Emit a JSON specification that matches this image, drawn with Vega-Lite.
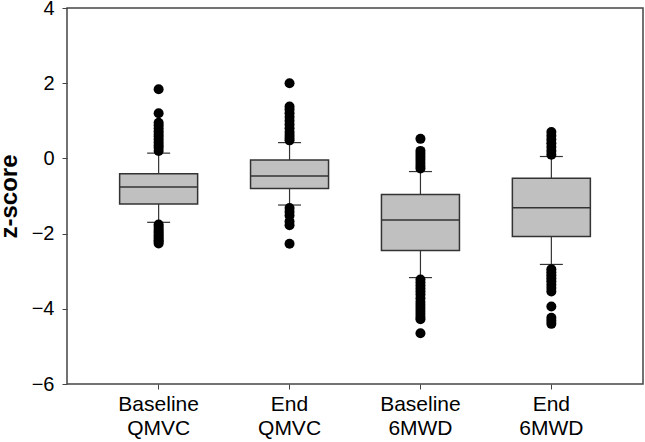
{
  "$schema": "https://vega.github.io/schema/vega-lite/v6.json",
  "autosize": "none",
  "width": 576,
  "height": 376,
  "padding": {"left": 67, "top": 8, "right": 2, "bottom": 58},
  "background": "white",
  "config": {
    "view": {"stroke": "#444444", "strokeWidth": 1.5},
    "font": "Liberation Sans",
    "axis": {"grid": false, "domainColor": "#444444", "domainWidth": 1.5, "tickColor": "#444444", "tickWidth": 1, "tickSize": 5, "labelColor": "#000000", "labelFont": "Liberation Sans", "labelFontSize": 20, "titleFont": "Liberation Sans"}
  },
  "datasets": {
    "summary": [
      {"group": "Baseline QMVC", "lower": -1.70, "q1": -1.21, "median": -0.76, "q3": -0.41, "upper": 0.14},
      {"group": "End QMVC", "lower": -1.24, "q1": -0.80, "median": -0.47, "q3": -0.04, "upper": 0.42},
      {"group": "Baseline 6MWD", "lower": -3.17, "q1": -2.45, "median": -1.64, "q3": -0.96, "upper": -0.35},
      {"group": "End 6MWD", "lower": -2.82, "q1": -2.08, "median": -1.31, "q3": -0.53, "upper": 0.05}
    ],
    "outliers": [
      {"group": "Baseline QMVC", "z": 1.84}, {"group": "Baseline QMVC", "z": 1.2}, {"group": "Baseline QMVC", "z": 0.95},
      {"group": "Baseline QMVC", "z": 0.88}, {"group": "Baseline QMVC", "z": 0.8}, {"group": "Baseline QMVC", "z": 0.72},
      {"group": "Baseline QMVC", "z": 0.65}, {"group": "Baseline QMVC", "z": 0.58}, {"group": "Baseline QMVC", "z": 0.5},
      {"group": "Baseline QMVC", "z": 0.42}, {"group": "Baseline QMVC", "z": 0.35}, {"group": "Baseline QMVC", "z": 0.28},
      {"group": "Baseline QMVC", "z": 0.2},
      {"group": "Baseline QMVC", "z": -1.76}, {"group": "Baseline QMVC", "z": -1.82}, {"group": "Baseline QMVC", "z": -1.88},
      {"group": "Baseline QMVC", "z": -1.93}, {"group": "Baseline QMVC", "z": -1.98}, {"group": "Baseline QMVC", "z": -2.03},
      {"group": "Baseline QMVC", "z": -2.08}, {"group": "Baseline QMVC", "z": -2.13}, {"group": "Baseline QMVC", "z": -2.18},
      {"group": "Baseline QMVC", "z": -2.22}, {"group": "Baseline QMVC", "z": -2.26},
      {"group": "End QMVC", "z": 2.0}, {"group": "End QMVC", "z": 1.38}, {"group": "End QMVC", "z": 1.3},
      {"group": "End QMVC", "z": 1.2}, {"group": "End QMVC", "z": 1.1}, {"group": "End QMVC", "z": 1.0},
      {"group": "End QMVC", "z": 0.9}, {"group": "End QMVC", "z": 0.8}, {"group": "End QMVC", "z": 0.7},
      {"group": "End QMVC", "z": 0.62}, {"group": "End QMVC", "z": 0.55}, {"group": "End QMVC", "z": 0.48},
      {"group": "End QMVC", "z": -1.32}, {"group": "End QMVC", "z": -1.42}, {"group": "End QMVC", "z": -1.52},
      {"group": "End QMVC", "z": -1.68}, {"group": "End QMVC", "z": -1.78}, {"group": "End QMVC", "z": -2.27},
      {"group": "Baseline 6MWD", "z": 0.52}, {"group": "Baseline 6MWD", "z": 0.2}, {"group": "Baseline 6MWD", "z": 0.12},
      {"group": "Baseline 6MWD", "z": 0.04}, {"group": "Baseline 6MWD", "z": -0.04}, {"group": "Baseline 6MWD", "z": -0.12},
      {"group": "Baseline 6MWD", "z": -0.2}, {"group": "Baseline 6MWD", "z": -0.27},
      {"group": "Baseline 6MWD", "z": -3.22}, {"group": "Baseline 6MWD", "z": -3.3}, {"group": "Baseline 6MWD", "z": -3.38},
      {"group": "Baseline 6MWD", "z": -3.46}, {"group": "Baseline 6MWD", "z": -3.54}, {"group": "Baseline 6MWD", "z": -3.62},
      {"group": "Baseline 6MWD", "z": -3.72}, {"group": "Baseline 6MWD", "z": -3.82}, {"group": "Baseline 6MWD", "z": -3.9},
      {"group": "Baseline 6MWD", "z": -3.98}, {"group": "Baseline 6MWD", "z": -4.06}, {"group": "Baseline 6MWD", "z": -4.14},
      {"group": "Baseline 6MWD", "z": -4.22}, {"group": "Baseline 6MWD", "z": -4.28}, {"group": "Baseline 6MWD", "z": -4.65},
      {"group": "End 6MWD", "z": 0.7}, {"group": "End 6MWD", "z": 0.6}, {"group": "End 6MWD", "z": 0.5},
      {"group": "End 6MWD", "z": 0.4}, {"group": "End 6MWD", "z": 0.3}, {"group": "End 6MWD", "z": 0.2},
      {"group": "End 6MWD", "z": 0.1},
      {"group": "End 6MWD", "z": -2.95}, {"group": "End 6MWD", "z": -3.03}, {"group": "End 6MWD", "z": -3.11},
      {"group": "End 6MWD", "z": -3.19}, {"group": "End 6MWD", "z": -3.27}, {"group": "End 6MWD", "z": -3.36},
      {"group": "End 6MWD", "z": -3.45}, {"group": "End 6MWD", "z": -3.54}, {"group": "End 6MWD", "z": -3.94},
      {"group": "End 6MWD", "z": -4.24}, {"group": "End 6MWD", "z": -4.32}, {"group": "End 6MWD", "z": -4.4}
    ]
  },
  "encoding": {
    "x": {
      "field": "group", "type": "nominal",
      "sort": ["Baseline QMVC", "End QMVC", "Baseline 6MWD", "End 6MWD"],
      "scale": {"paddingInner": 0, "paddingOuter": 0.2},
      "axis": {"title": null, "labelAngle": 0, "labelExpr": "split(datum.value, ' ')", "labelFontSize": 21, "labelLineHeight": 24, "labelPadding": 4, "domain": false}
    }
  },
  "layer": [
    {
      "data": {"name": "summary"},
      "mark": {"type": "rule", "color": "#333333", "strokeWidth": 1.2},
      "encoding": {
        "y": {"field": "lower", "type": "quantitative", "scale": {"domain": [-6, 4], "nice": false, "zero": false},
          "axis": {"values": [-6, -4, -2, 0, 2, 4], "title": "z-score", "titleFontSize": 24, "titleFontWeight": "bold", "titleColor": "#000000", "titlePadding": 10, "labelPadding": 8, "domain": false}},
        "y2": {"field": "upper"}
      }
    },
    {
      "data": {"name": "summary"},
      "mark": {"type": "bar", "size": 78, "fill": "#c0c0c0", "stroke": "#333333", "strokeWidth": 1.5},
      "encoding": {
        "y": {"field": "q1", "type": "quantitative"},
        "y2": {"field": "q3"}
      }
    },
    {
      "data": {"name": "summary"},
      "mark": {"type": "tick", "size": 78, "thickness": 1.5, "color": "#333333", "opacity": 1},
      "encoding": {"y": {"field": "median", "type": "quantitative"}}
    },
    {
      "data": {"name": "summary"},
      "mark": {"type": "tick", "size": 23, "thickness": 1.2, "color": "#333333", "opacity": 1},
      "encoding": {"y": {"field": "lower", "type": "quantitative"}}
    },
    {
      "data": {"name": "summary"},
      "mark": {"type": "tick", "size": 23, "thickness": 1.2, "color": "#333333", "opacity": 1},
      "encoding": {"y": {"field": "upper", "type": "quantitative"}}
    },
    {
      "data": {"name": "outliers"},
      "mark": {"type": "point", "filled": true, "color": "#000000", "size": 100, "opacity": 1},
      "encoding": {"y": {"field": "z", "type": "quantitative"}}
    }
  ]
}
